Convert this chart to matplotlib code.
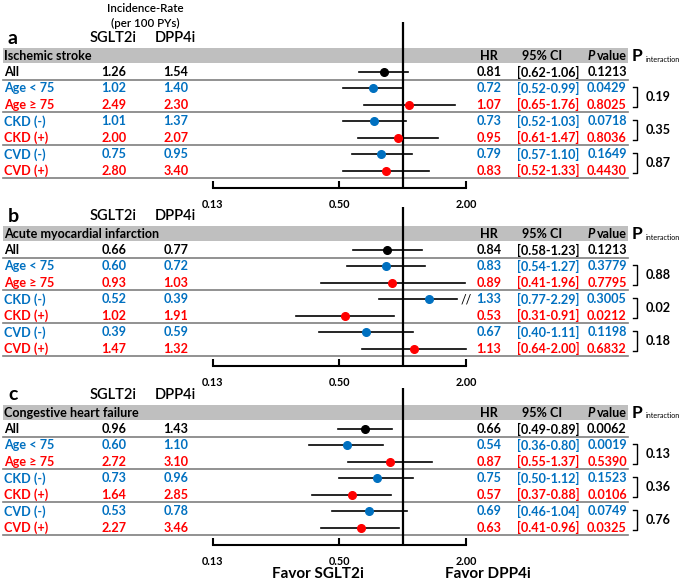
import numpy as np
import matplotlib.pyplot as plt
from matplotlib.patches import Rectangle

plt.rcParams['font.family'] = ['Lato', 'DejaVu Sans']
plt.rcParams['font.weight'] = 'bold'

BLUE = '#0070C0'
RED = '#FF0000'

# ---- data ----
row_labels = ["All", "Age < 75", "Age ≥ 75", "CKD (-)", "CKD (+)", "CVD (-)", "CVD (+)"]
row_colors = ['black', BLUE, RED, BLUE, RED, BLUE, RED]
panel_letters = ['a', 'b', 'c']
panel_titles = ["Ischemic stroke", "Acute myocardial infarction", "Congestive heart failure"]

sglt2i_a = [1.26, 1.02, 2.49, 1.01, 2.00, 0.75, 2.80]
dpp4i_a = [1.54, 1.40, 2.30, 1.37, 2.07, 0.95, 3.40]
hr_a = [0.81, 0.72, 1.07, 0.73, 0.95, 0.79, 0.83]
lo_a = [0.62, 0.52, 0.65, 0.52, 0.61, 0.57, 0.52]
hi_a = [1.06, 0.99, 1.76, 1.03, 1.47, 1.10, 1.33]
p_a = [0.1213, 0.0429, 0.8025, 0.0718, 0.8036, 0.1649, 0.4430]
pint_a = [0.19, 0.35, 0.87]

sglt2i_b = [0.66, 0.60, 0.93, 0.52, 1.02, 0.39, 1.47]
dpp4i_b = [0.77, 0.72, 1.03, 0.39, 1.91, 0.59, 1.32]
hr_b = [0.84, 0.83, 0.89, 1.33, 0.53, 0.67, 1.13]
lo_b = [0.58, 0.54, 0.41, 0.77, 0.31, 0.40, 0.64]
hi_b = [1.23, 1.27, 1.96, 2.29, 0.91, 1.11, 2.00]
p_b = [0.1213, 0.3779, 0.7795, 0.3005, 0.0212, 0.1198, 0.6832]
pint_b = [0.88, 0.02, 0.18]

sglt2i_c = [0.96, 0.60, 2.72, 0.73, 1.64, 0.53, 2.27]
dpp4i_c = [1.43, 1.10, 3.10, 0.96, 2.85, 0.78, 3.46]
hr_c = [0.66, 0.54, 0.87, 0.75, 0.57, 0.69, 0.63]
lo_c = [0.49, 0.36, 0.55, 0.50, 0.37, 0.46, 0.41]
hi_c = [0.89, 0.80, 1.37, 1.12, 0.88, 1.04, 0.96]
p_c = [0.0062, 0.0019, 0.5390, 0.1523, 0.0106, 0.0749, 0.0325]
pint_c = [0.13, 0.36, 0.76]

tick_vals = [0.125, 0.5, 2.0]
tick_labels = ['0.13', '0.50', '2.00']

panels = [
    (sglt2i_a, dpp4i_a, hr_a, lo_a, hi_a, p_a, pint_a),
    (sglt2i_b, dpp4i_b, hr_b, lo_b, hi_b, p_b, pint_b),
    (sglt2i_c, dpp4i_c, hr_c, lo_c, hi_c, p_c, pint_c),
]

# ---- layout (pixels) ----
W, H = 685, 581
panel_top = [48, 226, 405]   # top of grey header bar
ref_top = [22, 207, 388]     # top of the HR=1 line
ROW0, ROWSTEP = 24, 16.45
X_LO, X_HI = 212.5, 466.5    # pixel span of the 0.125..2 axis
FS = 9.1

fig = plt.figure(figsize=(W / 100, H / 100), dpi=100)
bg = fig.add_axes([0, 0, 1, 1])
bg.set_xlim(0, W)
bg.set_ylim(H, 0)
bg.axis('off')


def fig_box(x0, x1, y0, y1):
    return [x0 / W, 1 - y1 / H, (x1 - x0) / W, (y1 - y0) / H]


bg.text(145, 8, "Incidence-Rate", ha='center', va='center', fontsize=8.3, fontweight='semibold')
bg.text(145, 23, "(per 100 PYs)", ha='center', va='center', fontsize=8.3, fontweight='semibold')

for p, (sg, dp, hr, lo, hi, pv, pint) in enumerate(panels):
    base = panel_top[p]
    rows_y = base + ROW0 + ROWSTEP * np.arange(len(row_labels))
    axis_y = base + 140

    bg.add_patch(Rectangle((3, base), 625, 15, color='#BFBFBF', lw=0))
    bg.text(4, base + 8, panel_titles[p], va='center', fontsize=FS)

    bg.text(8, base - 10, panel_letters[p], va='center', fontsize=14)
    bg.text(113, base - 10, "SGLT2i", ha='center', va='center', fontsize=10.5, fontweight='semibold')
    bg.text(175, base - 10, "DPP4i", ha='center', va='center', fontsize=10.5, fontweight='semibold')

    bg.text(489, base + 8, "HR", ha='center', va='center', fontsize=FS)
    bg.text(542, base + 8, "95% CI", ha='center', va='center', fontsize=FS)
    bg.text(588, base + 8, "P", ha='left', va='center', fontsize=FS, style='italic')
    bg.text(597, base + 8, "value", ha='left', va='center', fontsize=FS)
    bg.text(632, base + 8, "P", ha='left', va='center', fontsize=12.5)
    bg.text(646, base + 11, "interaction", ha='left', va='center', fontsize=5.2, fontweight='normal')

    for i, y in enumerate(rows_y):
        c = row_colors[i]
        bg.text(4, y, row_labels[i], va='center', color=c, fontsize=FS)
        bg.text(114, y, f"{sg[i]:.2f}", ha='center', va='center', color=c, fontsize=FS)
        bg.text(176, y, f"{dp[i]:.2f}", ha='center', va='center', color=c, fontsize=FS)
        bg.text(489, y, f"{hr[i]:.2f}", ha='center', va='center', color=c, fontsize=FS)
        bg.text(548, y, f"[{lo[i]:.2f}-{hi[i]:.2f}]", ha='center', va='center', color=c, fontsize=FS)
        bg.text(607, y, f"{pv[i]:.4f}", ha='center', va='center', color=c, fontsize=FS)

    for i in (0, 2, 4, 6):
        bg.plot([3, 628], [rows_y[i] + 7.5] * 2, color='#7F7F7F', lw=1.2)

    for k in range(3):
        y1 = rows_y[1 + 2 * k] - 1.5
        y2 = rows_y[2 + 2 * k] + 2
        bg.plot([633, 637, 637, 633], [y1, y1, y2, y2], color='black', lw=1)
        bg.text(646, (y1 + y2) / 2, f"{pint[k]:.2f}", va='center', fontsize=FS)

    # forest part
    ax = fig.add_axes(fig_box(X_LO, X_HI, ref_top[p], axis_y))
    ax.set_xscale('log', base=2)
    ax.set_xlim(tick_vals[0], tick_vals[-1])
    ax.set_ylim(axis_y, ref_top[p])
    ax.patch.set_visible(False)
    for s in ('top', 'right', 'left'):
        ax.spines[s].set_visible(False)
    ax.spines['bottom'].set_linewidth(1.5)
    ax.set_xticks(tick_vals)
    ax.minorticks_off()
    ax.set_xticklabels(tick_labels, fontweight='bold', fontsize=7.8)
    ax.tick_params(axis='x', direction='in', length=5, width=1.5, pad=8)
    ax.set_yticks([])
    ax.axvline(1, color='black', lw=1.6)
    for i, y in enumerate(rows_y):
        upper = hi[i]
        if upper > tick_vals[-1]:
            upper = 1.8
            ax.text(tick_vals[-1], y, "//", ha='center', va='center', fontsize=9,
                    fontweight='normal', clip_on=False)
        ax.plot([lo[i], upper], [y, y], color='black', lw=1.2, clip_on=False)
        ax.plot(hr[i], y, 'o', color=row_colors[i], ms=5.5, clip_on=False, zorder=3)

bg.text(318, 574, "Favor SGLT2i", ha='center', va='center', fontsize=11)
bg.text(488, 574, "Favor DPP4i", ha='center', va='center', fontsize=11)

fig.savefig('out.png', dpi=100)
